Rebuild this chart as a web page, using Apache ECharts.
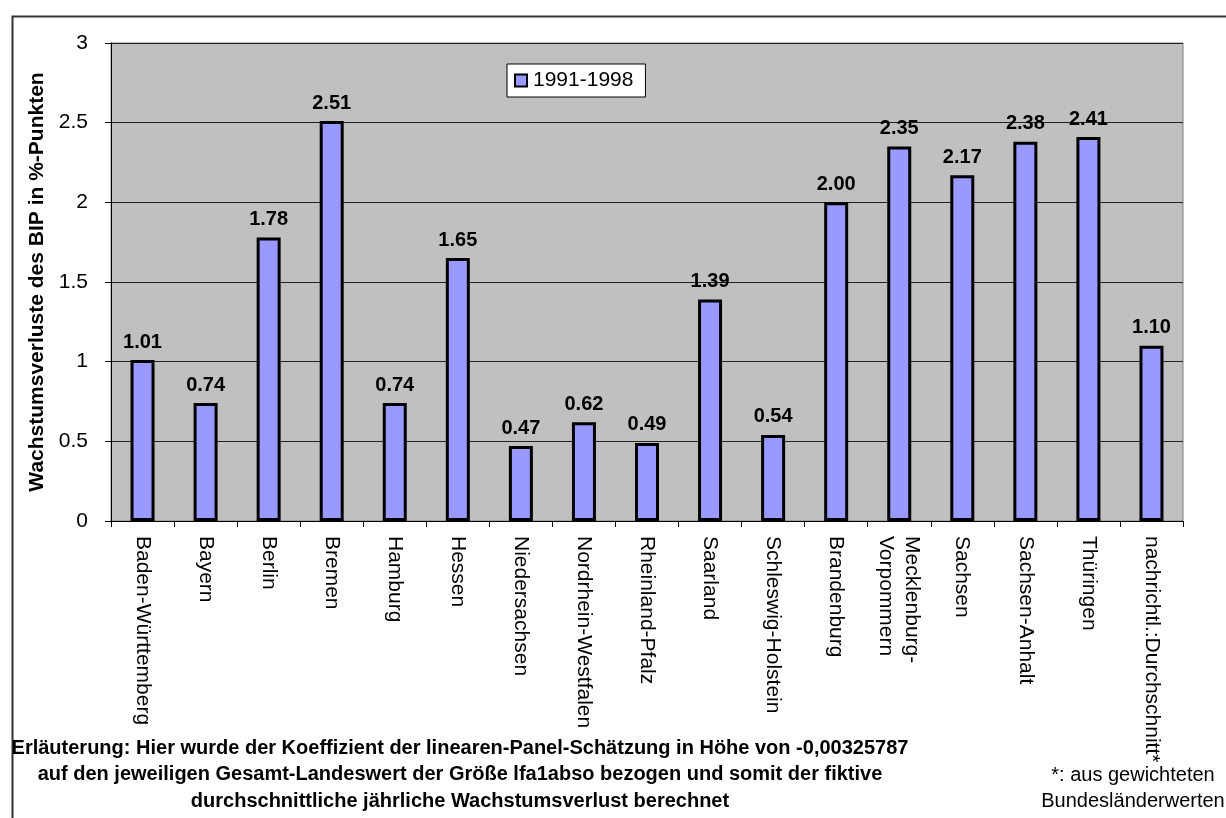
<!DOCTYPE html>
<html>
<head>
<meta charset="utf-8">
<script src="https://cdn.jsdelivr.net/npm/echarts@6/dist/echarts.min.js"></script>
<style>
  html, body {margin: 0; padding: 0; background: #fff;}
  #chart {width: 1226px; height: 818px;}
</style>
</head>
<body>
<div id="chart"></div>
<script>
const categories = [
  'Baden-Württemberg', 'Bayern', 'Berlin', 'Bremen', 'Hamburg', 'Hessen',
  'Niedersachsen', 'Nordrhein-Westfalen', 'Rheinland-Pfalz', 'Saarland',
  'Schleswig-Holstein', 'Brandenburg', 'Mecklenburg-\nVorpommern', 'Sachsen',
  'Sachsen-Anhalt', 'Thüringen', 'nachrichtl.:Durchschnitt*'
];
const values1991_1998 = [1.01, 0.74, 1.78, 2.51, 0.74, 1.65, 0.47, 0.62, 0.49, 1.39, 0.54, 2.00, 2.35, 2.17, 2.38, 2.41, 1.10];
const yTicks = {min: 0, max: 3, interval: 0.5};
const footnote = [
  'Erläuterung: Hier wurde der Koeffizient der linearen-Panel-Schätzung in Höhe von -0,00325787',
  'auf den jeweiligen Gesamt-Landeswert der Größe lfa1abso bezogen und somit der fiktive',
  'durchschnittliche jährliche Wachstumsverlust berechnet'
];
const sideNote = ['*: aus gewichteten', 'Bundesländerwerten'];

const font = 'Arial, "Liberation Sans", sans-serif';
const chart = echarts.init(document.getElementById('chart'));

chart.setOption({
  animation: false,
  textStyle: {fontFamily: font, color: '#000'},
  grid: {
    left: 111, right: 43, top: 43, bottom: 297,
    show: true, backgroundColor: '#c0c0c0', borderColor: '#808080', borderWidth: 1
  },
  legend: {
    left: 507, top: 64,
    backgroundColor: '#fff', borderColor: '#000', borderWidth: 1,
    padding: [6, 12, 6, 7],
    icon: 'rect', itemWidth: 12, itemHeight: 12, itemGap: 6,
    itemStyle: {borderColor: '#000', borderWidth: 2},
    textStyle: {fontSize: 21, fontFamily: font, color: '#000', padding: [0, 0, 0, 1]},
    data: ['1991-1998']
  },
  xAxis: {
    type: 'category',
    data: categories,
    axisLine: {lineStyle: {color: '#000', width: 1}},
    axisTick: {show: true, length: 6, lineStyle: {color: '#000'}},
    axisLabel: {
      rotate: -90, interval: 0, margin: 15,
      fontSize: 21, fontFamily: font, color: '#000', lineHeight: 26
    }
  },
  yAxis: {
    type: 'value',
    min: yTicks.min, max: yTicks.max, interval: yTicks.interval,
    name: 'Wachstumsverluste des BIP in %-Punkten',
    nameLocation: 'middle', nameGap: 60,
    nameTextStyle: {fontSize: 21, fontWeight: 'bold', fontFamily: font, color: '#000'},
    axisLine: {show: true, lineStyle: {color: '#000'}},
    axisTick: {show: true, length: 6, lineStyle: {color: '#000'}},
    axisLabel: {fontSize: 21, fontFamily: font, color: '#000', margin: 23},
    splitLine: {lineStyle: {color: '#222', width: 1}}
  },
  series: [{
    name: '1991-1998',
    type: 'bar',
    data: values1991_1998,
    barWidth: 24,
    itemStyle: {color: '#9999ff', borderColor: '#000', borderWidth: 3},
    label: {
      show: true, position: 'top', distance: 8,
      fontSize: 20, fontWeight: 'bold', fontFamily: font, color: '#000',
      formatter: p => p.value.toFixed(2)
    }
  }],
  graphic: [
    {
      type: 'rect', left: 10, top: 14, silent: true, z: -10,
      shape: {width: 1400, height: 1000},
      style: {fill: 'none', stroke: '#333', lineWidth: 2}
    },
    ...footnote.map((t, i) => ({
      type: 'text', x: 460, y: 748 + i * 26.5,
      style: {
        text: t, align: 'center', verticalAlign: 'middle',
        font: 'bold 20px ' + font, fill: '#000'
      }
    })),
    ...sideNote.map((t, i) => ({
      type: 'text', x: 1133, y: 775 + i * 26.5,
      style: {
        text: t, align: 'center', verticalAlign: 'middle',
        font: '20px ' + font, fill: '#000'
      }
    }))
  ]
});
</script>
</body>
</html>
